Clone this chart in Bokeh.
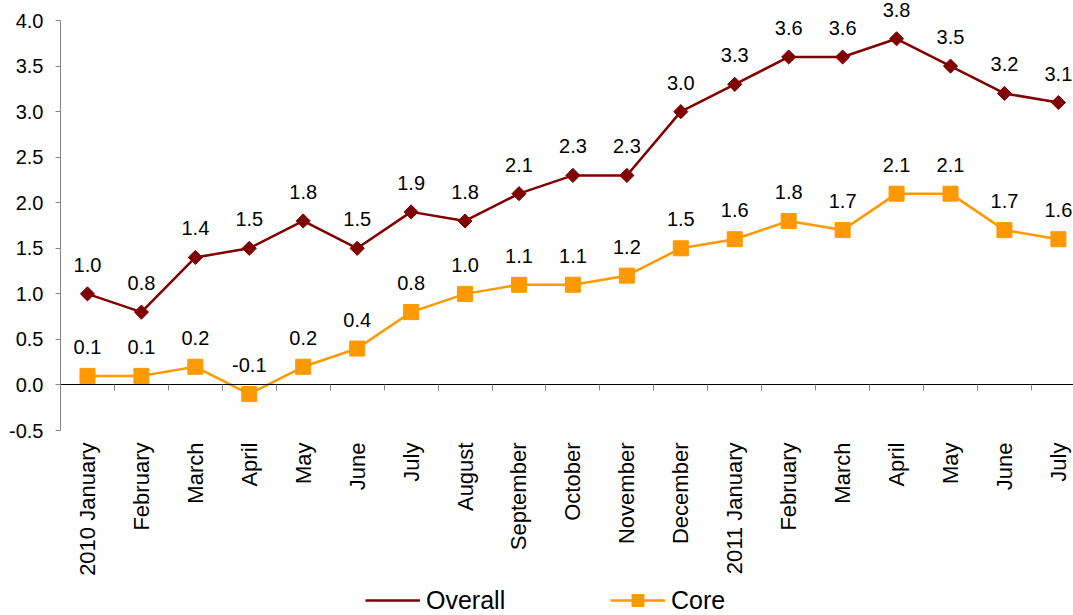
from bokeh.plotting import figure
from bokeh.models import (Range1d, LinearAxis, FixedTicker, NumeralTickFormatter,
                          Legend, LegendItem, ColumnDataSource)
from bokeh.core.properties import value
from bokeh.embed import file_html
from bokeh.resources import INLINE
import math

months = ["2010 January", "February", "March", "April", "May", "June", "July",
          "August", "September", "October", "November", "December",
          "2011 January", "February", "March", "April", "May", "June", "July"]
overall = [1.0, 0.8, 1.4, 1.5, 1.8, 1.5, 1.9, 1.8, 2.1, 2.3, 2.3, 3.0,
           3.3, 3.6, 3.6, 3.8, 3.5, 3.2, 3.1]
core = [0.1, 0.1, 0.2, -0.1, 0.2, 0.4, 0.8, 1.0, 1.1, 1.1, 1.2, 1.5,
        1.6, 1.8, 1.7, 2.1, 2.1, 1.7, 1.6]
y_ticks = [-0.5, 0.0, 0.5, 1.0, 1.5, 2.0, 2.5, 3.0, 3.5, 4.0]

FONT = "Liberation Sans"
RED = "#800000"
ORANGE = "#FF9900"
Y_MIN = y_ticks[0]

xs = [i + 0.5 for i in range(len(months))]
src = ColumnDataSource(dict(
    x=xs, overall=overall, core=core,
    overall_lab=[f"{v:.1f}" for v in overall],
    core_lab=[f"{v:.1f}" for v in core],
))
cat_src = ColumnDataSource(dict(x=xs, y=[Y_MIN] * len(months), label=months))

# frame covers the whole canvas height; y range extends below -0.5 to
# leave room for the category labels and the legend
p = figure(width=1073, height=615,
           x_range=Range1d(0, 18.78), y_range=Range1d(-2.53, 4.22),
           output_backend="svg", toolbar_location=None,
           x_axis_type=None, y_axis_type=None,
           min_border_left=60, min_border_top=0, min_border_right=0,
           min_border_bottom=0)
p.outline_line_color = None
p.xgrid.visible = False
p.ygrid.visible = False

# y axis (line only from -0.5 to 4.0)
yax = LinearAxis(ticker=FixedTicker(ticks=y_ticks),
                 formatter=NumeralTickFormatter(format="0.0"),
                 bounds=(-0.5, 4.0))
yax.axis_line_color = "#868686"
yax.major_tick_line_color = "#868686"
yax.major_tick_in = 0
yax.major_tick_out = 5
yax.minor_tick_line_color = None
yax.major_label_text_font = FONT
yax.major_label_text_font_size = "20px"
yax.major_label_text_color = "#000000"
yax.major_label_standoff = 12
p.add_layout(yax, "left")

# zero-line axis with boundary ticks
zax = LinearAxis(ticker=FixedTicker(ticks=list(range(len(months) + 1))),
                 fixed_location=0)
zax.axis_line_color = "#000000"
zax.axis_line_width = 1
zax.major_tick_line_color = "#868686"
zax.major_tick_in = 0
zax.major_tick_out = 6
zax.minor_tick_line_color = None
zax.major_label_text_alpha = 0
zax.major_label_text_font_size = "1px"
zax.major_label_standoff = 0
p.add_layout(zax, "below")

# category labels, rotated, hanging below the bottom of the value axis
p.text("x", "y", text="label", source=cat_src, angle=math.pi / 2,
       y_offset=12, text_align="right", text_baseline="middle",
       text_font=value(FONT), text_font_size="22px", text_color="#000000")

l1 = p.line("x", "overall", source=src, line_color=RED, line_width=2.5)
m1 = p.scatter("x", "overall", source=src, marker="square", angle=math.pi / 4,
               size=10, fill_color=RED, line_color=RED)
l2 = p.line("x", "core", source=src, line_color=ORANGE, line_width=2.5)
m2 = p.scatter("x", "core", source=src, marker="square", size=15,
               fill_color=ORANGE, line_color=ORANGE)
# legend-only diamond glyph (no data points)
leg_src = ColumnDataSource(dict(x=[], y=[]))
m1_leg = p.scatter("x", "y", source=leg_src, marker="diamond", size=14,
                   fill_color=RED, line_color=RED)

p.text("x", "overall", text="overall_lab", source=src, y_offset=-29,
       text_align="center", text_baseline="middle",
       text_font=value(FONT), text_font_size="20px", text_color="#000000")
p.text("x", "core", text="core_lab", source=src, y_offset=-29,
       text_align="center", text_baseline="middle",
       text_font=value(FONT), text_font_size="20px", text_color="#000000")

legend = Legend(items=[LegendItem(label="Overall", renderers=[l1, m1_leg]),
                       LegendItem(label="Core", renderers=[l2, m2])],
                orientation="horizontal", location=(305, 0))
legend.label_text_font = FONT
legend.label_text_font_size = "25px"
legend.label_text_color = "#000000"
legend.glyph_width = 55
legend.glyph_height = 30
legend.label_width = 85
legend.label_standoff = 6
legend.spacing = 99
legend.padding = 0
legend.margin = 0
legend.border_line_color = None
legend.background_fill_alpha = 0
p.add_layout(legend, "center")

open("out.html", "w").write(file_html(p, INLINE))
